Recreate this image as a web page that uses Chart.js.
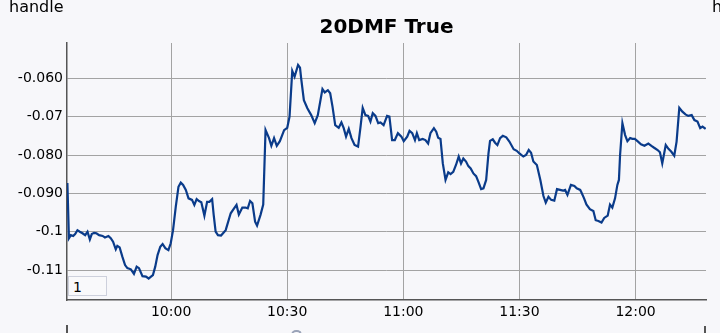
<!DOCTYPE html>
<html>
<head>
<meta charset="utf-8">
<script src="https://cdn.jsdelivr.net/npm/chart.js@4/dist/chart.umd.min.js"></script>
<style>
    html, body { margin: 0; padding: 0; background: #f7f7fa; overflow: hidden; }
    #wrap { position: relative; width: 720px; height: 333px; }
    #myChart { position: absolute; left: 0; top: 0; }
    .handle { position: absolute; top: -3px; font: 16px "DejaVu Sans", sans-serif; color: #000; }
    #pageBox { position: absolute; left: 68px; top: 276px; width: 39px; height: 20px;
        border: 1px solid #cdd0dc; background: #f9f9fb; font: 14px "DejaVu Sans", sans-serif;
        line-height: 20px; padding-left: 4px; box-sizing: border-box; }
    .mark { position: absolute; background: #555; width: 2px; }
    #blob { position: absolute; left: 291px; top: 330px; width: 11px; height: 8px;
        border: 2px solid #9aa3b8; border-bottom: none; border-radius: 5px 5px 0 0; box-sizing: border-box; }
</style>
</head>
<body>
<div id="wrap">
    <canvas id="myChart" width="720" height="333"></canvas>
    <div class="handle" style="left:9px">handle</div>
    <div class="handle" style="left:712px">handle</div>
    <div id="pageBox">1</div>
    <div class="mark" style="left:66px; top:325px; height:8px"></div>
    <div class="mark" style="left:704px; top:326px; height:7px"></div>
    <div id="blob"></div>
</div>
<script>
// minutes since midnight
const times = [573.2, 573.6, 574.1, 574.7, 575.2, 575.8, 576.4, 577.1, 577.8, 578.4,
    579.0, 579.5, 580.1, 580.7, 581.4, 582.3, 582.9, 583.8, 584.4, 585.0,
    585.7, 586.1, 586.7, 587.4, 588.1, 588.7, 589.6, 590.4, 591.1, 591.7,
    592.6, 593.5, 594.2, 594.8, 595.3, 595.9, 596.5, 597.2, 597.8, 598.5,
    599.3, 599.9, 600.5, 601.2, 601.9, 602.5, 603.1, 603.8, 604.5, 605.4,
    606.0, 606.6, 607.2, 607.8, 608.6, 609.3, 609.9, 610.6, 611.0, 611.5,
    612.1, 612.9, 614.1, 615.4, 616.0, 616.9, 617.5, 618.4, 619.2, 619.8,
    620.4, 621.0, 621.7, 622.2, 623.1, 623.8, 624.4, 625.3, 625.9, 626.6,
    627.3, 628.1, 629.2, 630.0, 630.6, 631.3, 631.9, 632.8, 633.3, 633.6,
    634.3, 635.2, 636.2, 637.1, 637.9, 639.1, 639.7, 640.5, 641.1, 641.7,
    642.4, 643.3, 644.0, 644.6, 645.2, 645.9, 646.6, 647.4, 648.3, 648.9,
    649.5, 650.2, 650.9, 651.5, 652.1, 652.8, 653.5, 654.1, 654.9, 655.8,
    656.4, 657.1, 657.8, 658.6, 659.5, 660.1, 661.0, 661.6, 662.3, 663.0,
    663.5, 664.1, 665.0, 665.7, 666.4, 667.0, 667.9, 668.5, 669.0, 669.6,
    670.2, 670.9, 671.6, 672.2, 672.9, 673.6, 674.3, 674.9, 675.5, 676.2,
    676.8, 677.4, 678.1, 678.8, 679.4, 680.1, 680.7, 681.4, 682.0, 682.4,
    683.1, 683.7, 684.3, 685.0, 685.7, 686.6, 687.4, 688.5, 689.3, 690.0,
    691.0, 691.7, 692.4, 693.0, 693.6, 694.5, 695.4, 696.2, 696.8, 697.5,
    698.2, 699.0, 699.7, 700.5, 701.2, 701.8, 702.4, 703.3, 704.2, 704.8,
    705.7, 706.0, 706.7, 707.3, 708.2, 709.1, 709.7, 710.4, 711.2, 711.9,
    712.8, 713.4, 714.0, 714.7, 715.3, 715.7, 716.0, 716.6, 717.3, 717.9,
    718.6, 719.2, 719.8, 720.5, 721.4, 722.3, 723.3, 724.1, 724.8, 725.7,
    726.3, 726.9, 727.8, 728.5, 729.2, 730.0, 730.6, 731.3, 732.1, 732.9,
    733.6, 734.5, 735.2, 736.0, 736.7, 737.3, 738.1];

const dmfValues = [-0.0873, -0.1017, -0.1009, -0.1011, -0.1006, -0.0996, -0.1000, -0.1004, -0.1009, -0.1000,
    -0.1020, -0.1006, -0.1003, -0.1004, -0.1009, -0.1011, -0.1015, -0.1011, -0.1017, -0.1026,
    -0.1046, -0.1037, -0.1041, -0.1065, -0.1087, -0.1095, -0.1098, -0.1110, -0.1091, -0.1095,
    -0.1116, -0.1117, -0.1122, -0.1117, -0.1113, -0.1091, -0.1061, -0.1039, -0.1032, -0.1043,
    -0.1048, -0.1030, -0.0996, -0.0935, -0.0883, -0.0872, -0.0878, -0.0891, -0.0913, -0.0917,
    -0.0930, -0.0915, -0.0920, -0.0923, -0.0958, -0.0922, -0.0922, -0.0915, -0.0956, -0.1000,
    -0.1009, -0.1010, -0.0996, -0.0952, -0.0943, -0.0930, -0.0955, -0.0937, -0.0937, -0.0939,
    -0.0920, -0.0926, -0.0974, -0.0984, -0.0956, -0.0929, -0.0735, -0.0756, -0.0776, -0.0756,
    -0.0776, -0.0764, -0.0735, -0.0729, -0.0700, -0.0581, -0.0596, -0.0565, -0.0572, -0.0600,
    -0.0657, -0.0678, -0.0696, -0.0717, -0.0696, -0.0628, -0.0637, -0.0631, -0.0639, -0.0674,
    -0.0722, -0.0729, -0.0715, -0.0730, -0.0752, -0.0732, -0.0756, -0.0774, -0.0778, -0.0730,
    -0.0677, -0.0696, -0.0698, -0.0713, -0.0691, -0.0698, -0.0717, -0.0715, -0.0722, -0.0698,
    -0.0700, -0.0761, -0.0761, -0.0743, -0.0752, -0.0764, -0.0752, -0.0737, -0.0743, -0.0761,
    -0.0743, -0.0761, -0.0758, -0.0761, -0.0770, -0.0743, -0.0730, -0.0739, -0.0755, -0.0758,
    -0.0822, -0.0865, -0.0845, -0.0850, -0.0844, -0.0826, -0.0804, -0.0822, -0.0809, -0.0817,
    -0.0829, -0.0835, -0.0848, -0.0855, -0.0870, -0.0889, -0.0887, -0.0865, -0.0796, -0.0763,
    -0.0759, -0.0768, -0.0774, -0.0756, -0.0750, -0.0754, -0.0765, -0.0785, -0.0789, -0.0796,
    -0.0804, -0.0800, -0.0787, -0.0794, -0.0817, -0.0826, -0.0865, -0.0907, -0.0924, -0.0909,
    -0.0917, -0.0919, -0.0889, -0.0891, -0.0893, -0.0891, -0.0904, -0.0878, -0.0881, -0.0887,
    -0.0891, -0.0897, -0.0913, -0.0929, -0.0941, -0.0946, -0.0970, -0.0972, -0.0976, -0.0964,
    -0.0958, -0.0929, -0.0937, -0.0913, -0.0878, -0.0865, -0.0800, -0.0717, -0.0748, -0.0764,
    -0.0756, -0.0758, -0.0758, -0.0764, -0.0772, -0.0776, -0.0770, -0.0776, -0.0781, -0.0787,
    -0.0793, -0.0822, -0.0774, -0.0784, -0.0791, -0.0802, -0.0765, -0.0677, -0.0687, -0.0694,
    -0.0698, -0.0696, -0.0709, -0.0713, -0.0730, -0.0726, -0.0732];

const xTickValues = [600, 630, 660, 690, 720];
const xTickLabels = ['10:00', '10:30', '11:00', '11:30', '12:00'];
const yTickValues = [-0.06, -0.07, -0.08, -0.09, -0.1, -0.11];
const yTickLabels = ['-0.060', '-0.07', '-0.080', '-0.090', '-0.1', '-0.11'];

Chart.defaults.font.family = '"DejaVu Sans", sans-serif';
Chart.defaults.color = '#000';

const points = times.map((t, i) => ({ x: t, y: dmfValues[i] }));

const ctx = document.getElementById('myChart').getContext('2d');
const myChart = new Chart(ctx, {
    type: 'line',
    data: {
        datasets: [{
            label: '20DMF',
            data: points,
            borderColor: '#0a3b8a',
            borderWidth: 2.2,
            pointRadius: 0,
            tension: 0,
            fill: false
        }]
    },
    options: {
        responsive: false,
        animation: false,
        layout: { padding: { left: 0, right: 14, top: 0, bottom: 0 } },
        plugins: {
            legend: { display: false },
            tooltip: { enabled: false },
            title: {
                display: true,
                text: '20DMF True',
                fullSize: false,
                color: '#000',
                font: { size: 20, weight: 'bold', family: '"DejaVu Sans", sans-serif' },
                padding: { top: 16, bottom: 3 }
            }
        },
        scales: {
            x: {
                type: 'linear',
                min: 573.1,
                max: 738.2,
                afterBuildTicks: (scale) => { scale.ticks = xTickValues.map(v => ({ value: v })); },
                afterFit: (scale) => { scale.height = 33; },
                ticks: {
                    padding: 4,
                    font: { size: 14 },
                    callback: (v) => xTickLabels[xTickValues.indexOf(v)]
                },
                grid: { color: '#a3a3a3', lineWidth: 1, drawTicks: false },
                border: { color: '#555', width: 1.5 }
            },
            y: {
                type: 'linear',
                min: -0.1178,
                max: -0.0508,
                afterBuildTicks: (scale) => { scale.ticks = yTickValues.map(v => ({ value: v })); },
                afterFit: (scale) => { scale.width = 67; },
                ticks: {
                    padding: 4,
                    font: { size: 14 },
                    callback: (v) => yTickLabels[yTickValues.indexOf(v)]
                },
                grid: { color: '#a3a3a3', lineWidth: 1, drawTicks: false },
                border: { color: '#555', width: 1.5 }
            }
        }
    }
});
</script>
</body>
</html>
